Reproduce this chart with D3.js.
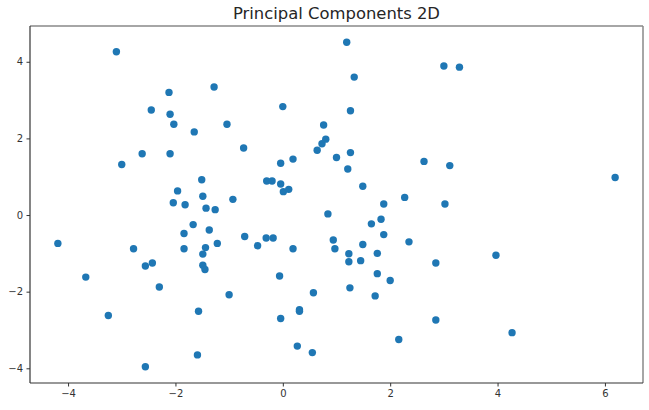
<!DOCTYPE html>
<html>
<head>
<meta charset="utf-8">
<script src="https://cdn.jsdelivr.net/npm/d3@7"></script>
<style>
	body { margin: 0; background: #fff; }
	svg { display: block; }
	text { font-family: "DejaVu Sans", sans-serif; }
</style>
</head>
<body>
<div id="chart"></div>
<script>
// principal component scores
var pc1 = [
	-3.10, -3.00, -2.45, -2.62, -2.12, -2.10, -2.03, -2.10, -1.65, -1.28,
	-1.04, -0.73, 0.00, -0.04, 0.19, -1.51, -1.49, -1.96, -2.04, -1.82,
	-1.43, -1.26, -0.93, -0.30, -0.20, -0.04, 0.01, 0.11, 0.64, 0.73,
	0.80, 0.76, 1.19, 1.33, 3.00, 3.29, 1.26, 1.00, 1.26, 1.21,
	2.63, 3.11, 6.19, 1.49, 1.88, 2.27, 3.02, 0.84, -4.19, -3.67,
	-3.25, -2.78, -2.56, -2.43, -2.30, -2.56, -1.67, -1.84, -1.37, -1.84,
	-1.44, -1.49, -1.22, -1.49, -1.45, -1.57, -1.59, -1.00, -0.71, -0.47,
	-0.31, -0.18, 0.19, -0.06, 0.57, 0.31, 0.31, -0.04, 0.27, 0.55,
	1.83, 1.65, 1.88, 0.94, 0.97, 1.49, 2.35, 1.23, 1.23, 1.45,
	1.76, 1.76, 2.00, 1.25, 1.72, 2.85, 3.97, 2.85, 2.16, 4.27
];
var pc2 = [
	4.26, 1.32, 2.74, 1.60, 3.20, 2.63, 2.37, 1.60, 2.17, 3.34,
	2.37, 1.75, 2.83, 1.35, 1.46, 0.92, 0.49, 0.63, 0.32, 0.27,
	0.18, 0.14, 0.41, 0.89, 0.89, 0.81, 0.61, 0.67, 1.69, 1.86,
	1.98, 2.35, 4.51, 3.60, 3.89, 3.86, 2.72, 1.50, 1.63, 1.20,
	1.40, 1.29, 0.98, 0.75, 0.29, 0.46, 0.29, 0.03, -0.74, -1.62,
	-2.62, -0.88, -1.33, -1.25, -1.88, -3.96, -0.25, -0.48, -0.39, -0.88,
	-0.85, -1.02, -0.74, -1.31, -1.42, -2.51, -3.65, -2.08, -0.56, -0.80,
	-0.60, -0.60, -0.88, -1.59, -2.03, -2.47, -2.51, -2.70, -3.42, -3.59,
	-0.11, -0.23, -0.51, -0.65, -0.88, -0.77, -0.70, -1.01, -1.22, -1.19,
	-1.00, -1.53, -1.71, -1.90, -2.11, -1.25, -1.05, -2.74, -3.25, -3.07
];
var xTicks = [-4, -2, 0, 2, 4, 6];
var yTicks = [-4, -2, 0, 2, 4];
var title = "Principal Components 2D";

var width = 649, height = 410;
var margin = {top: 26, right: 6, bottom: 27, left: 30};
var innerW = width - margin.left - margin.right;
var innerH = height - margin.top - margin.bottom;

// matplotlib style 5% margins around the data
var pad = function(ext){
	var d = (ext[1] - ext[0]) * 0.05;
	return [ext[0] - d, ext[1] + d];
}

var points = pc1.map(function(v, i){ return {x: v, y: pc2[i]}; });

var x = d3.scaleLinear().domain(pad(d3.extent(pc1))).range([0, innerW]);
var y = d3.scaleLinear().domain(pad(d3.extent(pc2))).range([innerH, 0]);

var minus = function(d){ return d3.format("d")(d).replace("-", "\u2212"); };

var svg = d3.select("#chart").append("svg")
	.attr("width", width)
	.attr("height", height);

var g = svg.append("g")
	.attr("transform", "translate(" + margin.left + "," + margin.top + ")");

// points
g.selectAll(".dot")
	.data(points)
	.enter()
	.append("circle")
	.attr("class", "dot")
	.attr("cx", function(d){ return x(d.x); })
	.attr("cy", function(d){ return y(d.y); })
	.attr("r", 3.7)
	.attr("fill", "#1f77b4");

// axes
var xAxis = g.append("g")
	.attr("transform", "translate(0," + innerH + ")")
	.call(d3.axisBottom(x).tickValues(xTicks).tickFormat(minus).tickSize(3.5).tickPadding(3.5));

var yAxis = g.append("g")
	.call(d3.axisLeft(y).tickValues(yTicks).tickFormat(minus).tickSize(3.5).tickPadding(3.5));

[xAxis, yAxis].forEach(function(a){
	a.select(".domain").remove();
	a.selectAll("line").attr("stroke", "#333");
	a.selectAll("text")
		.attr("fill", "#333")
		.style("font-size", "10px")
		.style("font-family", "'DejaVu Sans', sans-serif");
});

// frame: top/right look lighter in the picture
g.append("line").attr("x1", 0).attr("x2", innerW).attr("y1", 0).attr("y2", 0)
	.attr("stroke", "#888").attr("stroke-width", 1.5);
g.append("line").attr("x1", innerW).attr("x2", innerW).attr("y1", 0).attr("y2", innerH)
	.attr("stroke", "#888").attr("stroke-width", 1.5);
g.append("line").attr("x1", 0).attr("x2", 0).attr("y1", 0).attr("y2", innerH)
	.attr("stroke", "#333").attr("stroke-width", 1.2);
g.append("line").attr("x1", 0).attr("x2", innerW).attr("y1", innerH).attr("y2", innerH)
	.attr("stroke", "#333").attr("stroke-width", 1.2);

// title
svg.append("text")
	.attr("x", margin.left + innerW / 2)
	.attr("y", 19)
	.attr("text-anchor", "middle")
	.attr("fill", "#262626")
	.style("font-size", "16.4px")
	.text(title);
</script>
</body>
</html>
